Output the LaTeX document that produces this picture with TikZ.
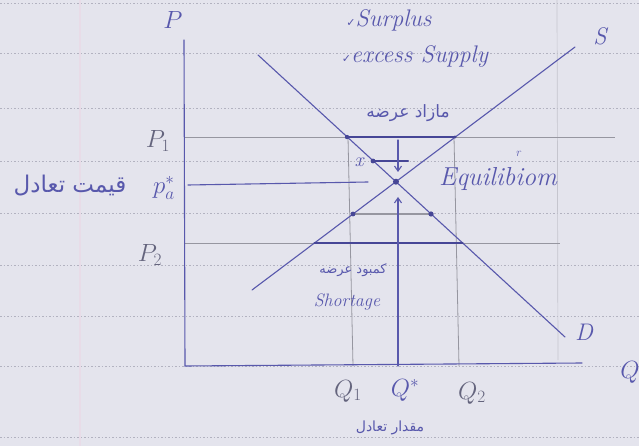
\documentclass[tikz,border=0pt]{standalone}
\usepackage{fontspec}
\usetikzlibrary{arrows.meta}
\TeXXeTstate=1
\newfontfamily\fa[Script=Arabic]{DejaVu Sans}
\newfontfamily\dv{DejaVu Sans}
\definecolor{paper}{RGB}{228,228,237}
\definecolor{ink}{RGB}{88,88,172}
\definecolor{darkink}{RGB}{70,70,150}
\definecolor{pencil}{RGB}{150,150,160}
\definecolor{graytext}{RGB}{100,100,125}
\definecolor{rule}{RGB}{178,178,192}
\definecolor{margin}{RGB}{232,220,232}
\begin{document}
\begin{tikzpicture}[x=1pt,y=-1pt,
  inkline/.style={draw=ink,line width=1.1pt,line cap=round},
  thickink/.style={draw=darkink,line width=2.1pt,line cap=round},
  thickgray/.style={draw=pencil,line width=2.1pt,line cap=round},
  pencilline/.style={draw=pencil,line width=0.8pt},
  faintline/.style={draw=pencil!40!paper,line width=0.7pt},
  ruleline/.style={draw=rule,line width=0.7pt,dash pattern=on 1.5pt off 2pt},
  arrowline/.style={inkline,-{Straight Barb[length=5pt,width=7pt]}},
  lbl/.style={text=ink,inner sep=0pt,font=\fontsize{24}{28}\selectfont\itshape},
  glbl/.style={lbl,text=graytext},
  fatext/.style={text=ink,inner sep=0pt},
  dotsty/.style={fill=darkink}
]
\useasboundingbox (0,0) rectangle (639,446);
\fill[paper] (0,0) rectangle (639,446);
% ruled paper
\foreach \yy in {3,53,108,161,213,265,316,366,437}
  \draw[ruleline] (0,\yy) -- (639,\yy);
\draw[margin,line width=1.2pt] (80,0) -- (80,446);
\draw[faintline] (557,0) -- (558,360);

% coordinates
\coordinate (Ptop) at (184,40);
\coordinate (O) at (185,366);
\coordinate (Qend) at (582,363);
\coordinate (S1) at (252,290);
\coordinate (S2) at (575,47);
\coordinate (D1) at (258,55);
\coordinate (D2) at (565,337);
\coordinate (E) at (intersection of S1--S2 and D1--D2);
\coordinate (P1a) at (185,137);
\coordinate (P1b) at (615,137);
\coordinate (P1d) at (347,137);
\coordinate (P1s) at (455,137);
\coordinate (P2a) at (185,243);
\coordinate (P2b) at (560,243);
\coordinate (P2s) at (314.5,243);
\coordinate (P2d) at (462.7,243);
\coordinate (Ms) at (353,214);
\coordinate (Md) at (431,214);
\coordinate (Xd) at (373,161);
\coordinate (Xe) at (408,161);
\coordinate (Pa) at (188,185);
\coordinate (Pb) at (368,182);
\coordinate (Ad1) at (398,140);
\coordinate (Ad2) at (398,172);
\coordinate (Au1) at (398,366);
\coordinate (Au2) at (398,197);
\coordinate (Q1t) at (348,137);
\coordinate (Q1b) at (353,366);
\coordinate (Q2t) at (454,137);
\coordinate (Q2b) at (459,366);

% pencil guide lines
\draw[pencilline] (P1a) -- (P1b);
\draw[pencilline] (P2a) -- (P2b);
\draw[pencilline] (Q1t) -- (Q1b);
\draw[pencilline] (Q2t) -- (Q2b);

% axes
\draw[inkline] (Ptop) -- (O) -- (Qend);

% curves
\draw[inkline] (S1) -- (S2);
\draw[inkline] (D1) -- (D2);

% price lines
\draw[thickink] (P1d) -- (P1s);
\draw[thickink] (P2s) -- (P2d);
\draw[thickgray] (Ms) -- (Md);
\draw[thickink] (Xd) -- (Xe);
\draw[inkline] (Pa) -- (Pb);

% arrows
\draw[arrowline] (Ad1) -- (Ad2);
\draw[arrowline] (Au1) -- (Au2);

% dots
\fill[dotsty] (E) circle (3pt);
\fill[dotsty] (P1d) circle (2.2pt);
\fill[dotsty] (P1s) circle (1.6pt);
\fill[dotsty] (Ms) circle (2.4pt);
\fill[dotsty] (Md) circle (2.6pt);
\fill[dotsty] (Xd) circle (2.4pt);

% labels
\node[lbl] (lP) at (173,20) {$P$};
\node[lbl] (lQ) at (630,372) {$Q$};
\node[lbl] (lS) at (600,36) {S};
\node[lbl] (lD) at (584,332) {D};
\node[glbl] (lP1) at (158,141) {$P_1$};
\node[lbl] (lPs) at (164,188) {$p^{*}_{a}$};
\node[glbl] (lP2) at (150,255) {$P_2$};
\node[glbl] (lQ1) at (348,391) {$Q_1$};
\node[lbl] (lQs) at (405,390) {$Q^{*}$};
\node[glbl] (lQ2) at (472,393) {$Q_2$};
\node[lbl,font=\fontsize{20}{24}\selectfont\itshape] (lx) at (359,162) {x};
\node[lbl] (lsur) at (389,20) {{\dv\fontsize{11}{12}\selectfont ✓}Surplus};
\node[lbl] (lexc) at (415,57) {{\dv\fontsize{11}{12}\selectfont ✓}excess Supply};
\node[lbl,font=\fontsize{26}{30}\selectfont\itshape] (leq) at (498,179) {Equilibiom};
\node[lbl,font=\fontsize{12}{13}\selectfont\itshape] (lr) at (518,154) {r};
\node[lbl,font=\fontsize{18}{22}\selectfont\itshape] (lsh) at (347,302) {Shortage};
\node[fatext,font=\fa\fontsize{23}{26}\selectfont] (lqt) at (70,186) {\beginR قیمت تعادل\endR};
\node[fatext,font=\fa\fontsize{17}{20}\selectfont] (lmaz) at (408,113) {\beginR مازاد عرضه\endR};
\node[fatext,font=\fa\fontsize{13}{16}\selectfont] (lkam) at (353,270) {\beginR کمبود عرضه\endR};
\node[fatext,font=\fa\fontsize{14}{16}\selectfont] (lmeq) at (390,428) {\beginR مقدار تعادل\endR};
\end{tikzpicture}
\end{document}
